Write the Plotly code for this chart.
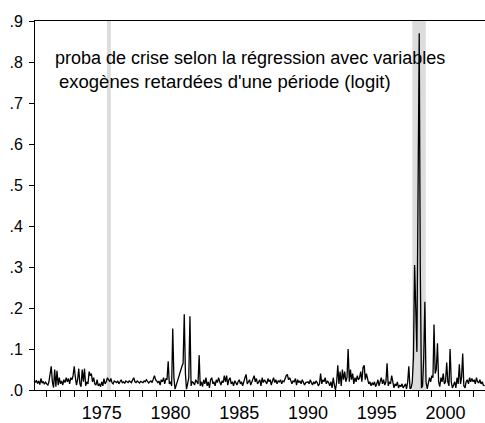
import pandas as pd
import plotly.graph_objects as go

# Monthly crisis probability (logit with one-period lagged exogenous variables),
# 1970M03 .. 2002M11
start_month = "1970-03-01"
proba_logit = [
    # 1970 (Mar-Dec)
    0.018, 0.024, 0.016, 0.022, 0.013, 0.028, 0.017, 0.021, 0.014, 0.019,
    # 1971
    0.015, 0.012, 0.020, 0.035, 0.058, 0.020, 0.006, 0.050, 0.008, 0.047, 0.012, 0.030,
    # 1972
    0.015, 0.022, 0.012, 0.025, 0.018, 0.030, 0.020, 0.028, 0.015, 0.030, 0.025, 0.035,
    # 1973
    0.058, 0.030, 0.012, 0.025, 0.052, 0.015, 0.008, 0.050, 0.020, 0.052, 0.010, 0.020,
    # 1974
    0.015, 0.045, 0.035, 0.040, 0.020, 0.030, 0.015, 0.012, 0.025, 0.010, 0.015, 0.008,
    # 1975
    0.020, 0.010, 0.028, 0.015, 0.020, 0.030, 0.025, 0.020, 0.028, 0.018, 0.015, 0.022,
    # 1976
    0.020, 0.018, 0.022, 0.015, 0.020, 0.025, 0.018, 0.020, 0.016, 0.022, 0.020, 0.018,
    # 1977
    0.022, 0.020, 0.018, 0.025, 0.030, 0.020, 0.018, 0.022, 0.020, 0.017, 0.021, 0.019,
    # 1978
    0.018, 0.022, 0.020, 0.025, 0.020, 0.017, 0.020, 0.022, 0.018, 0.028, 0.035, 0.025,
    # 1979
    0.020, 0.018, 0.022, 0.012, 0.025, 0.020, 0.030, 0.015, 0.028, 0.025, 0.070, 0.015,
    # 1980
    0.020, 0.010, 0.150, 0.030, 0.002, 0.012, 0.025, 0.035, 0.045, 0.052, 0.058, 0.065,
    # 1981
    0.185, 0.040, 0.002, 0.015, 0.030, 0.180, 0.010, 0.020, 0.018, 0.012, 0.025, 0.020,
    # 1982
    0.015, 0.085, 0.010, 0.020, 0.008, 0.025, 0.015, 0.030, 0.010, 0.020, 0.005, 0.025,
    # 1983
    0.030, 0.015, 0.020, 0.010, 0.025, 0.018, 0.030, 0.020, 0.012, 0.022, 0.018, 0.035,
    # 1984
    0.020, 0.035, 0.012, 0.025, 0.030, 0.015, 0.020, 0.010, 0.022, 0.018, 0.012, 0.020,
    # 1985
    0.025, 0.015, 0.020, 0.010, 0.022, 0.030, 0.038, 0.015, 0.020, 0.025, 0.012, 0.020,
    # 1986
    0.030, 0.035, 0.020, 0.028, 0.015, 0.020, 0.025, 0.010, 0.030, 0.018, 0.025, 0.020,
    # 1987
    0.015, 0.028, 0.020, 0.025, 0.012, 0.022, 0.030, 0.018, 0.025, 0.015, 0.022, 0.020,
    # 1988
    0.025, 0.015, 0.022, 0.020, 0.030, 0.035, 0.038, 0.025, 0.030, 0.020, 0.015, 0.022,
    # 1989
    0.020, 0.028, 0.012, 0.025, 0.018, 0.022, 0.015, 0.025, 0.020, 0.012, 0.018, 0.020,
    # 1990
    0.020, 0.015, 0.025, 0.018, 0.012, 0.020, 0.015, 0.022, 0.018, 0.010, 0.015, 0.040,
    # 1991
    0.015, 0.025, 0.020, 0.030, 0.015, 0.022, 0.018, 0.010, 0.020, 0.005, 0.030, 0.012,
    # 1992
    0.000, 0.020, 0.060, 0.015, 0.045, 0.010, 0.050, 0.025, 0.045, 0.020, 0.030, 0.100,
    # 1993
    0.020, 0.050, 0.025, 0.040, 0.015, 0.030, 0.020, 0.035, 0.025, 0.030, 0.045, 0.020,
    # 1994
    0.055, 0.060, 0.025, 0.040, 0.030, 0.015, 0.020, 0.010, 0.018, 0.012, 0.020, 0.008,
    # 1995
    0.015, 0.025, 0.010, 0.020, 0.030, 0.015, 0.025, 0.012, 0.020, 0.065, 0.010, 0.020,
    # 1996
    0.015, 0.035, 0.020, 0.005, 0.015, 0.010, 0.020, 0.005, 0.012, 0.008, 0.015, 0.005,
    # 1997
    0.010, 0.015, 0.003, 0.020, 0.058, 0.003, 0.005, 0.020, 0.080, 0.305, 0.200, 0.093,
    # 1998
    0.480, 0.870, 0.300, 0.005, 0.010, 0.080, 0.215, 0.020, 0.003, 0.015, 0.030, 0.020,
    # 1999
    0.035, 0.030, 0.160, 0.040, 0.050, 0.114, 0.020, 0.008, 0.030, 0.020, 0.040, 0.015,
    # 2000
    0.020, 0.067, 0.020, 0.010, 0.100, 0.020, 0.005, 0.012, 0.020, 0.005, 0.030, 0.015,
    # 2001
    0.063, 0.015, 0.030, 0.089, 0.010, 0.005, 0.020, 0.025, 0.015, 0.030, 0.020, 0.028,
    # 2002 (Jan-Nov)
    0.020, 0.025, 0.015, 0.030, 0.020, 0.018, 0.025, 0.015, 0.020, 0.012, 0.010,
]
months = pd.date_range(start_month, periods=len(proba_logit), freq="MS")

# Crisis periods shaded in grey
crisis_starts = ["1975-05-20", "1997-08-01"]
crisis_ends = ["1975-09-01", "1998-07-25"]

# Axis ticks
year_ticks = ["1975-01-01", "1980-01-01", "1985-01-01", "1990-01-01", "1995-01-01", "2000-01-01"]
year_labels = ["1975", "1980", "1985", "1990", "1995", "2000"]
prob_ticks = [0.0, 0.1, 0.2, 0.3, 0.4, 0.5, 0.6, 0.7, 0.8, 0.9]
prob_labels = [".0", ".1", ".2", ".3", ".4", ".5", ".6", ".7", ".8", ".9"]

FONT = "Liberation Sans, Arial, sans-serif"

fig = go.Figure()
fig.add_trace(go.Scatter(
    x=months, y=proba_logit, mode="lines",
    line=dict(color="black", width=1.3),
    hoverinfo="skip", showlegend=False,
))

for x0, x1 in zip(crisis_starts, crisis_ends):
    fig.add_shape(type="rect", xref="x", yref="paper", x0=x0, x1=x1, y0=0, y1=1,
                  fillcolor="#dcdcdc", line=dict(width=0), layer="below")

fig.add_annotation(xref="paper", yref="paper", x=0.04, y=0.900,
                   xanchor="left", yanchor="middle", showarrow=False,
                   text="proba de crise selon la régression avec variables",
                   font=dict(family=FONT, size=18, color="black"))
fig.add_annotation(xref="paper", yref="paper", x=0.049, y=0.837,
                   xanchor="left", yanchor="middle", showarrow=False,
                   text="exogènes retardées d'une période (logit)",
                   font=dict(family=FONT, size=18.5, color="black"))

fig.update_xaxes(
    type="date", range=["1970-02-24", "2002-11-14"],
    tickvals=year_ticks, ticktext=year_labels,
    ticks="outside", ticklen=6, tickcolor="black", tickwidth=1,
    minor=dict(dtick="M12", tick0="1970-01-01", ticks="outside", ticklen=6,
               tickcolor="black", tickwidth=1, showgrid=False),
    showline=True, linecolor="black", linewidth=1, mirror=True,
    showgrid=False, zeroline=False,
    tickfont=dict(family=FONT, size=18, color="black"),
)
fig.update_yaxes(
    range=[0, 0.9], tickvals=prob_ticks, ticktext=prob_labels,
    ticks="outside", ticklen=5, tickcolor="black", tickwidth=1,
    ticklabelstandoff=3,
    showline=True, linecolor="black", linewidth=1, mirror=False,
    showgrid=False, zeroline=False,
    tickfont=dict(family=FONT, size=16, color="black"),
)

fig.update_layout(
    width=485, height=423,
    margin=dict(l=35, r=0, t=21, b=33),
    paper_bgcolor="white", plot_bgcolor="white",
)

fig.write_html("out.html")
